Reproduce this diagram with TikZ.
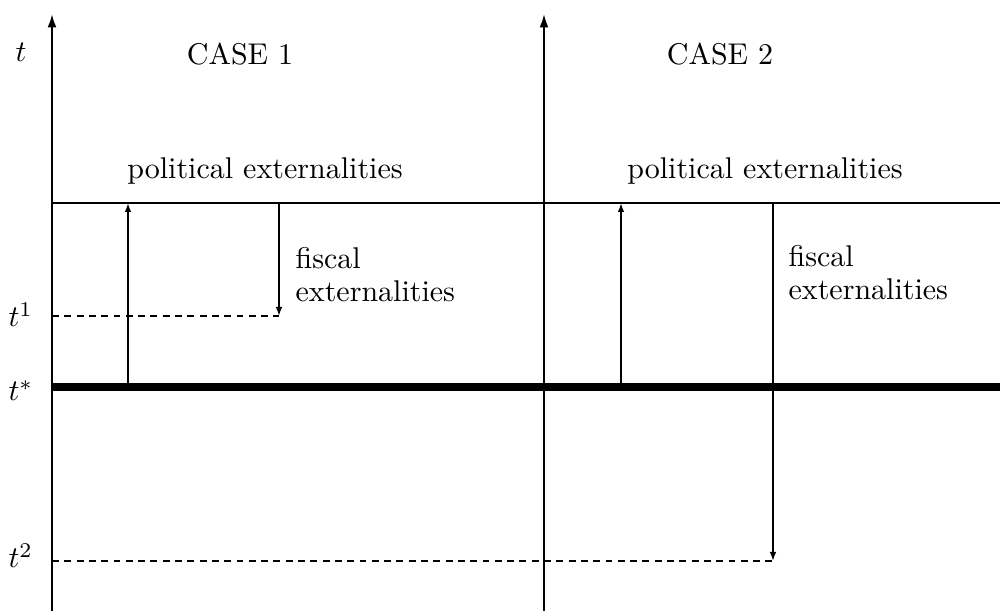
\documentclass[tikz,border=0pt]{standalone}
\usetikzlibrary{arrows.meta}
\begin{document}
\begin{tikzpicture}[x=0.3333pt,y=-0.3333pt,
  axis/.style={line width=0.7pt,-{Latex[length=4.5pt,width=3pt]}},
  extarrow/.style={line width=0.55pt,-{Latex[length=3pt,width=2.2pt]}},
  guide/.style={line width=0.5pt,dash pattern=on 2.3pt off 1.8pt},
  level/.style={line width=0.65pt},
  thickbase/.style={line width=2.4pt},
  lbl/.style={inner sep=0pt,font=\fontsize{10}{11.3}\selectfont}]
\useasboundingbox (0,0) rectangle (1000,611);
% axes
\coordinate (a1b) at (52,611);  \coordinate (a1t) at (52,14);
\coordinate (a2b) at (544,611); \coordinate (a2t) at (544,14);
% level lines
\coordinate (topL) at (52,203);  \coordinate (topR) at (1000,203);
\coordinate (starL) at (52,387); \coordinate (starR) at (1000,387);
% externality arrows
\coordinate (p1b) at (128,387); \coordinate (p1t) at (128,203);
\coordinate (f1t) at (279,203); \coordinate (f1b) at (279,316);
\coordinate (p2b) at (621,387); \coordinate (p2t) at (621,203);
\coordinate (f2t) at (773,203); \coordinate (f2b) at (773,561);
\coordinate (g1) at (52,316); \coordinate (g2) at (52,561);

\draw[axis] (a1b) -- (a1t);
\draw[axis] (a2b) -- (a2t);
\draw[level] (topL) -- (topR);
\draw[thickbase] (starL) -- (starR);
\draw[guide] (g1) -- (f1b);
\draw[guide] (g2) -- (f2b);
\draw[extarrow] (p1b) -- (p1t);
\draw[extarrow] (f1t) -- (f1b);
\draw[extarrow] (p2b) -- (p2t);
\draw[extarrow] (f2t) -- (f2b);

% labels
\node[lbl,anchor=base] (tlab) at (21,62) {$t$};
\node[lbl,anchor=base west] (t1) at (8,327) {$t^1$};
\node[lbl,anchor=base west] (tstar) at (8,401) {$t^*$};
\node[lbl,anchor=base west] (t2) at (8,568) {$t^2$};
\node[lbl,anchor=base] (case1) at (240,65) {CASE 1};
\node[lbl,anchor=base] (case2) at (720,65) {CASE 2};
\node[lbl,anchor=base] (pol1) at (265,179) {political externalities};
\node[lbl,anchor=base] (pol2) at (765,179) {political externalities};
\node[lbl,anchor=base west,align=left] (fis1) at (295,302) {fiscal\\externalities};
\node[lbl,anchor=base west,align=left] (fis2) at (788,300) {fiscal\\externalities};
\end{tikzpicture}
\end{document}
